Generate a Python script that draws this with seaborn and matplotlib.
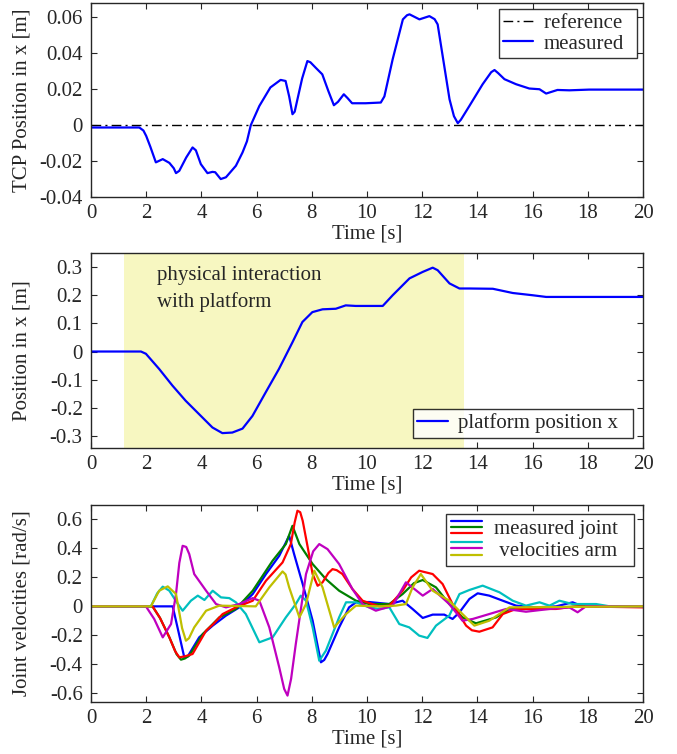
import numpy as np
import pandas as pd
import seaborn as sns
import matplotlib.pyplot as plt
from matplotlib.legend_handler import HandlerBase
from matplotlib.lines import Line2D

# ---------------- data ----------------
# panel 1: TCP position in x
tcp_t = [0, 1.0, 1.75, 1.9, 2.0, 2.15, 2.35, 2.6, 2.84, 3.0, 3.08, 3.2, 3.45, 3.68, 3.8,
         3.98, 4.22, 4.4, 4.5, 4.7, 4.89, 5.25, 5.49, 5.65, 5.79, 6.1, 6.5, 6.87, 7.05,
         7.18, 7.3, 7.38, 7.48, 7.65, 7.84, 7.95, 8.14, 8.38, 8.6, 8.8, 8.95, 9.16, 9.3,
         9.46, 9.95, 10.5, 10.63, 10.93, 11.3, 11.45, 11.54, 11.9, 12.26, 12.45, 12.56,
         12.99, 13.15, 13.29, 13.4, 13.71, 14.19, 14.5, 14.62, 14.75, 14.98, 15.4, 15.88,
         16.25, 16.49, 16.9, 17.33, 18.05, 20]
tcp_x = [-0.0013, -0.0013, -0.0013, -0.003, -0.006, -0.012, -0.0207, -0.0189, -0.021,
         -0.024, -0.0267, -0.0254, -0.018, -0.0124, -0.014, -0.0217, -0.0267, -0.026,
         -0.0262, -0.030, -0.029, -0.0226, -0.0152, -0.009, 0.0, 0.0107, 0.021, 0.0252,
         0.0246, 0.016, 0.0061, 0.0075, 0.0144, 0.026, 0.0357, 0.035, 0.032, 0.0283, 0.019,
         0.0111, 0.013, 0.0172, 0.015, 0.0122, 0.0122, 0.0126, 0.016, 0.0367, 0.0589,
         0.0612, 0.0617, 0.0589, 0.0607, 0.059, 0.0561, 0.0144, 0.005, 0.0011, 0.003,
         0.0107, 0.0228, 0.0295, 0.0307, 0.029, 0.0256, 0.0228, 0.0204, 0.020, 0.0176,
         0.0196, 0.0194, 0.0198, 0.0198]
ref_t = [0, 20]
ref_x = [0, 0]

# panel 2: platform position
plat_t = [0, 1.81, 1.99, 2.47, 2.95, 3.43, 3.92, 4.4, 4.76, 5.12, 5.49, 5.85, 6.33, 6.81,
          7.3, 7.66, 8.02, 8.39, 8.87, 9.23, 9.59, 10.57, 10.93, 11.54, 12.02, 12.38, 12.56,
          12.99, 13.35, 13.71, 14.56, 15.28, 16.0, 16.49, 20]
plat_x = [0, 0, -0.008, -0.062, -0.121, -0.175, -0.223, -0.27, -0.29, -0.288, -0.274,
          -0.229, -0.145, -0.062, 0.033, 0.105, 0.14, 0.15, 0.152, 0.164, 0.162, 0.162,
          0.2, 0.26, 0.283, 0.298, 0.289, 0.242, 0.224, 0.224, 0.223, 0.208, 0.2, 0.194,
          0.194]
shade_start, shade_end = 1.2, 13.5

# panel 3: joint velocities (blue, green, red, cyan, magenta, olive)
blue_t = [0, 2.96, 3.2, 3.38, 3.5, 3.92, 4.41, 4.89, 5.37, 5.86, 6.34, 6.82, 7.18, 7.36,
          7.67, 8.03, 8.33, 8.45, 8.57, 8.99, 9.35, 9.6, 10.08, 10.81, 11.29, 11.65, 12.02,
          12.38, 12.8, 13.1, 13.35, 13.71, 14.01, 14.43, 14.92, 15.4, 16.12, 16.85, 17.45,
          17.81, 20]
blue_v = [0, 0, -0.2, -0.352, -0.347, -0.214, -0.133, -0.064, -0.007, 0.085, 0.223, 0.349,
          0.487, 0.36, 0.154, -0.099, -0.386, -0.37, -0.329, -0.145, -0.007, 0.028, 0.03,
          0.016, 0.039, -0.018, -0.08, -0.057, -0.057, -0.087, -0.041, 0.051, 0.09, 0.074,
          0.039, 0.005, -0.007, 0, 0.028, 0, 0]
green_t = [0, 2.23, 2.5, 2.84, 3.1, 3.26, 3.4, 3.56, 4.05, 4.65, 5.25, 5.86, 6.58, 7.06,
           7.3, 7.55, 8.03, 8.51, 8.99, 9.6, 10.08, 10.81, 11.29, 11.7, 12.02, 12.5, 12.98,
           13.46, 13.95, 14.68, 15.16, 15.88, 16.85, 17.81, 20]
green_v = [0, 0, -0.08, -0.214, -0.33, -0.368, -0.36, -0.34, -0.191, -0.076, -0.018, 0.108,
           0.315, 0.43, 0.556, 0.43, 0.292, 0.188, 0.108, 0.039, 0.016, 0.016, 0.085, 0.16,
           0.182, 0.131, 0.016, -0.076, -0.117, -0.076, -0.018, -0.018, -0.007, 0, 0]
red_t = [0, 2.23, 2.5, 2.84, 3.05, 3.2, 3.4, 3.68, 4.17, 4.41, 4.77, 5.25, 5.86, 6.34, 6.94,
         7.24, 7.38, 7.48, 7.58, 7.67, 7.85, 8.03, 8.21, 8.39, 8.6, 8.75, 8.9, 9.11, 9.47,
         9.84, 10.44, 10.81, 11.29, 11.6, 11.89, 12.38, 12.74, 13.1, 13.59, 13.8, 14.07,
         14.55, 14.92, 15.4, 16.37, 16.85, 17.57, 20]
red_v = [0, 0, -0.08, -0.214, -0.31, -0.352, -0.345, -0.329, -0.168, -0.126, -0.053,
         -0.007, 0.039, 0.177, 0.303, 0.43, 0.58, 0.66, 0.65, 0.591, 0.41, 0.223, 0.142,
         0.166, 0.23, 0.257, 0.25, 0.223, 0.12, 0.039, 0, 0.005, 0.108, 0.2, 0.246, 0.223,
         0.154, 0.016, -0.133, -0.165, -0.175, -0.145, -0.053, -0.018, -0.018, -0.018, 0,
         -0.007]
cyan_t = [0, 2.17, 2.4, 2.6, 2.84, 3.1, 3.32, 3.62, 3.87, 4.11, 4.41, 4.71, 5.01, 5.25,
          5.61, 6.1, 6.58, 7.06, 7.42, 7.6, 7.79, 8.03, 8.27, 8.51, 8.99, 9.24, 9.6, 10.08,
          10.44, 10.81, 11.17, 11.53, 11.89, 12.19, 12.5, 12.98, 13.35, 13.71, 14.19, 14.8,
          15.28, 15.76, 16.25, 16.61, 16.97, 17.45, 18.3, 18.8, 20]
cyan_v = [0, 0, 0.09, 0.136, 0.108, 0.03, -0.03, 0.039, 0.074, 0.044, 0.108, 0.062, 0.057,
          0.028, -0.053, -0.248, -0.214, -0.076, 0.016, 0.074, 0.039, -0.145, -0.375,
          -0.306, -0.076, 0.028, 0.028, -0.007, -0.018, -0.007, -0.122, -0.145, -0.202,
          -0.218, -0.133, -0.064, 0.085, 0.113, 0.143, 0.097, 0.039, 0.005, 0.028, 0.005,
          0.039, 0.016, 0.016, 0, 0]
magenta_t = [0, 1.99, 2.29, 2.6, 2.9, 3.08, 3.2, 3.32, 3.45, 3.56, 3.74, 4.17, 4.53, 4.89,
             5.37, 5.86, 6.1, 6.46, 6.82, 7.0, 7.12, 7.25, 7.42, 7.79, 8.05, 8.27, 8.57,
             8.99, 9.47, 9.84, 10.32, 10.93, 11.41, 12.02, 12.38, 12.98, 13.46, 13.83,
             14.43, 15.04, 15.76, 16.61, 17.33, 17.63, 17.93, 20]
magenta_v = [0, 0, -0.087, -0.214, -0.122, 0.085, 0.3, 0.418, 0.41, 0.361, 0.223, 0.108,
             0.016, -0.007, 0.016, 0.057, 0.039, -0.145, -0.421, -0.57, -0.616, -0.5, -0.26,
             0.223, 0.38, 0.43, 0.395, 0.292, 0.12, 0.016, -0.03, 0.005, 0.166, 0.074, 0.12,
             0.016, -0.099, -0.087, -0.053, -0.018, -0.037, -0.018, -0.007, -0.041, 0, 0]
olive_t = [0, 2.17, 2.47, 2.78, 3.08, 3.3, 3.44, 3.55, 3.74, 4.17, 4.65, 5.97, 6.46, 6.94,
           7.05, 7.18, 7.55, 7.79, 8.09, 8.39, 8.81, 9.24, 9.6, 10.44, 11.05, 11.41, 11.65,
           11.95, 12.38, 12.98, 13.46, 13.89, 14.43, 15.16, 20]
olive_v = [0, 0, 0.108, 0.138, 0.085, -0.15, -0.237, -0.22, -0.145, -0.03, 0.005, 0, 0.131,
           0.241, 0.22, 0.131, -0.076, 0.016, 0.246, 0.131, -0.145, -0.053, 0.005, 0, 0.005,
           0.016, 0.131, 0.223, 0.108, 0.039, -0.053, -0.133, -0.099, -0.007, 0]

joint_series = [(blue_t, blue_v, "#0000ff"), (green_t, green_v, "#008000"),
                (red_t, red_v, "#ff0000"), (cyan_t, cyan_v, "#00bfbf"),
                (magenta_t, magenta_v, "#bf00bf"), (olive_t, olive_v, "#bfbf00")]

x_ticks = np.arange(0, 21, 2)


class StackedLines(HandlerBase):
    # several colored lines stacked tightly in one legend row
    def create_artists(self, legend, orig_handle, xdescent, ydescent, width, height,
                       fontsize, trans):
        arts = []
        for i, col in enumerate(orig_handle):
            y = height / 2 - ydescent + (1 - i) * 0.42 * height
            ln = Line2D([-xdescent, -xdescent + width], [y, y], color=col, lw=1.6)
            ln.set_transform(trans)
            arts.append(ln)
        return arts


# ---------------- plotting ----------------
sns.set_style("ticks")
plt.rcParams['font.family'] = ['Liberation Serif', 'DejaVu Serif']
plt.rcParams['font.size'] = 15
plt.rcParams['xtick.direction'] = 'in'
plt.rcParams['ytick.direction'] = 'in'
plt.rcParams['xtick.top'] = True
plt.rcParams['ytick.right'] = True
plt.rcParams['axes.linewidth'] = 1.0

fig = plt.figure(figsize=(6.77, 7.54), dpi=100)
ax1 = fig.add_axes([0.1344, 0.7387, 0.8154, 0.2573])
ax2 = fig.add_axes([0.1344, 0.4058, 0.8154, 0.2586])
ax3 = fig.add_axes([0.1344, 0.0690, 0.8154, 0.2613])

# panel 1
sns.lineplot(x=ref_t, y=ref_x, ax=ax1, color='black', lw=1.0, dashes=False,
             label='reference  ', estimator=None)
ax1.lines[0].set_dashes((7, 3, 1.5, 3))
sns.lineplot(x=tcp_t, y=tcp_x, ax=ax1, color='#0000ff', lw=1.6, label='measured',
             estimator=None, sort=False)
ax1.set_ylim(-0.04, 0.068)
ax1.set_yticks([-0.04, -0.02, 0, 0.02, 0.04, 0.06])
ax1.set_yticklabels(['-0.04', '-0.02', '0', '0.02', '0.04', '0.06'])
ax1.set_ylabel('TCP Position in x [m]')
leg1 = ax1.legend(loc='upper right', frameon=True, fancybox=False, edgecolor='black',
                  handlelength=1.45, handletextpad=0.5, borderaxespad=0.3, borderpad=0.2,
                  labelspacing=0.05)
leg1.get_frame().set_linewidth(1.0)

# panel 2
ax2.axvspan(shade_start, shade_end, color='#f7f7c1', lw=0)
sns.lineplot(x=plat_t, y=plat_x, ax=ax2, color='#0000ff', lw=1.6,
             label='platform position x  ', estimator=None, sort=False)
ax2.set_ylim(-0.343, 0.35)
ax2.set_yticks([-0.3, -0.2, -0.1, 0, 0.1, 0.2, 0.3])
ax2.set_yticklabels(['-0.3', '-0.2', '-0.1', '0', '0.1', '0.2', '0.3'])
ax2.set_ylabel('Position in x [m]')
ax2.text(2.4, 0.303, 'physical interaction\nwith platform', va='top', ha='left',
         linespacing=1.45)
leg2 = ax2.legend(loc='lower right', frameon=True, fancybox=False, edgecolor='black',
                  handlelength=1.45, handletextpad=0.5, borderaxespad=0.5, borderpad=0.2)
leg2.get_frame().set_linewidth(1.0)

# panel 3
for t, v, col in joint_series:
    sns.lineplot(x=t, y=v, ax=ax3, color=col, lw=1.6, estimator=None, sort=False)
ax3.set_ylim(-0.66, 0.7)
ax3.set_yticks([-0.6, -0.4, -0.2, 0, 0.2, 0.4, 0.6])
ax3.set_yticklabels(['-0.6', '-0.4', '-0.2', '0', '0.2', '0.4', '0.6'])
ax3.set_ylabel('Joint velocities [rad/s]')
groups = [tuple(c for _, _, c in joint_series[:3]), tuple(c for _, _, c in joint_series[3:])]
leg3 = ax3.legend(groups, ['measured joint  ', ' velocities arm  '], loc='upper right',
                  handler_map={tuple: StackedLines()}, frameon=True, fancybox=False,
                  edgecolor='black', handlelength=1.45, handletextpad=0.6,
                  borderaxespad=0.45, borderpad=0.25, labelspacing=0.1)
leg3.get_frame().set_linewidth(1.0)

for ax in (ax1, ax2, ax3):
    ax.set_xlim(0, 20)
    ax.set_xticks(x_ticks)
    ax.set_xticklabels([str(v) for v in x_ticks])
    ax.set_xlabel('Time [s]', labelpad=1)
    ax.tick_params(length=4, width=0.8)
    ax.tick_params(axis='x', pad=5)
    ax.tick_params(axis='y', pad=6)
    ax.yaxis.set_label_coords(-0.107, 0.5)
    for s in ax.spines.values():
        s.set_visible(True)

fig.savefig('out.png', dpi=100)
